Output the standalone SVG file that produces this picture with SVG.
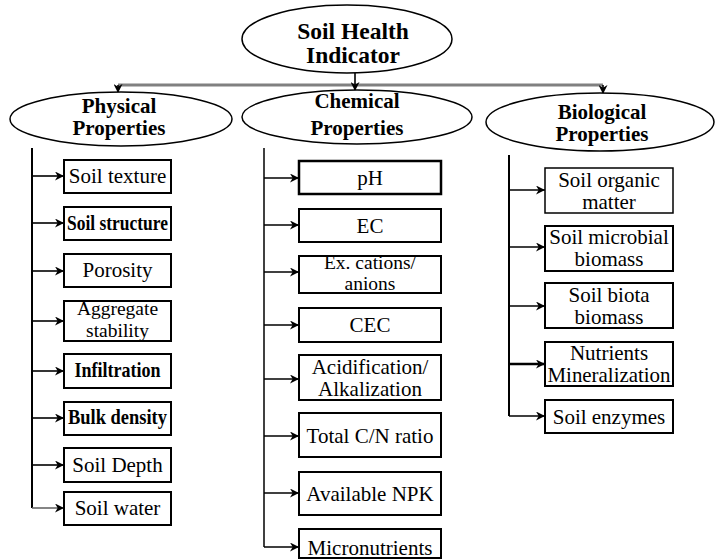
<svg xmlns="http://www.w3.org/2000/svg" width="715" height="560" viewBox="0 0 715 560">
<defs>
<marker id="ah" viewBox="0 0 10 10" refX="10" refY="5" markerWidth="9" markerHeight="9" markerUnits="userSpaceOnUse" orient="auto">
<path d="M0,0 L10,5 L0,10 L3,5 z" fill="#000"/>
</marker>
<style>
.ell{fill:#fff;stroke:#000;stroke-width:1.5}
.box{fill:#fff;stroke:#000;stroke-width:2}
.h{font-family:'Times New Roman','Liberation Serif',Tinos,'DejaVu Serif',serif;font-weight:bold;text-anchor:middle;fill:#000}
.t{font-family:'Times New Roman','Liberation Serif',Tinos,'DejaVu Serif',serif;font-size:21px;text-anchor:middle;fill:#000}
.s{font-size:19.5px}
.b{font-weight:bold}
.vl{stroke:#000;stroke-width:2;fill:none}
.ar{stroke:#000;stroke-width:1.6;fill:none;marker-end:url(#ah)}
.gl{stroke:#808080;stroke-width:3;fill:none}
</style>
</defs>
<rect width="715" height="560" fill="#fff"/>
<g id="connectors">
<line class="gl" x1="118" y1="85" x2="603" y2="85"/>
<line class="ar" x1="118" y1="85" x2="118" y2="93"/>
<line class="ar" x1="603" y1="85" x2="603" y2="94"/>
<line class="ar" x1="355" y1="73" x2="355" y2="91"/>
<line class="vl" x1="32" y1="148" x2="32" y2="508"/>
<line class="ar" x1="32" y1="176" x2="64" y2="176"/>
<line class="ar" x1="32" y1="223" x2="64" y2="223"/>
<line class="ar" x1="32" y1="271" x2="64" y2="271"/>
<line class="ar" x1="32" y1="321" x2="64" y2="321"/>
<line class="ar" x1="32" y1="371" x2="64" y2="371"/>
<line class="ar" x1="32" y1="418" x2="64" y2="418"/>
<line class="ar" x1="32" y1="465" x2="64" y2="465"/>
<line class="ar" x1="32" y1="508" x2="64" y2="508" style="stroke:#666"/>
<line class="vl" x1="264" y1="148" x2="264" y2="547" style="stroke-width:1.5"/>
<line class="ar" x1="264" y1="178" x2="299" y2="178"/>
<line class="ar" x1="264" y1="225" x2="299" y2="225"/>
<line class="ar" x1="264" y1="272" x2="299" y2="272"/>
<line class="ar" x1="264" y1="325" x2="299" y2="325"/>
<line class="ar" x1="264" y1="379" x2="299" y2="379"/>
<line class="ar" x1="264" y1="436" x2="299" y2="436"/>
<line class="ar" x1="264" y1="493" x2="299" y2="493"/>
<line class="ar" x1="264" y1="547" x2="299" y2="547"/>
<line class="vl" x1="509" y1="155" x2="509" y2="416"/>
<line class="ar" x1="509" y1="190" x2="545" y2="190"/>
<line class="ar" x1="509" y1="247" x2="545" y2="247"/>
<line class="ar" x1="509" y1="306" x2="545" y2="306"/>
<line class="ar" x1="509" y1="364" x2="545" y2="364" style="stroke-width:2.5"/>
<line class="ar" x1="509" y1="416" x2="545" y2="416"/>
</g>
<g id="root">
<ellipse class="ell" cx="347" cy="39" rx="105" ry="34"/>
<text class="h" x="353" y="39" font-size="23.5">Soil Health</text>
<text class="h" x="353" y="63" font-size="23.5">Indicator</text>
</g>
<g id="physical">
<ellipse class="ell" cx="121" cy="119" rx="111" ry="27"/>
<text class="h" x="119" y="113" font-size="21">Physical</text>
<text class="h" x="119" y="135" font-size="21">Properties</text>
</g>
<g id="chemical">
<ellipse class="ell" cx="357" cy="117" rx="115" ry="27"/>
<text class="h" x="357" y="108" font-size="21">Chemical</text>
<text class="h" x="357" y="135" font-size="21">Properties</text>
</g>
<g id="biological">
<ellipse class="ell" cx="600" cy="122" rx="114" ry="29"/>
<text class="h" x="602" y="119" font-size="21">Biological</text>
<text class="h" x="602" y="141" font-size="21">Properties</text>
</g>
<g id="p1"><rect class="box" x="64" y="160" width="107" height="33"/><text class="t" x="117.5" y="183">Soil texture</text></g>
<g id="p2"><rect class="box" x="64" y="207" width="107" height="33"/><text class="t b" x="117.5" y="230" textLength="101" lengthAdjust="spacingAndGlyphs">Soil structure</text></g>
<g id="p3"><rect class="box" x="64" y="254" width="107" height="33"/><text class="t" x="117.5" y="277">Porosity</text></g>
<g id="p4"><rect class="box" x="64" y="301" width="107" height="40"/><text class="t s" x="117.5" y="315">Aggregate</text><text class="t s" x="117.5" y="337">stability</text></g>
<g id="p5"><rect class="box" x="64" y="354" width="107" height="34"/><text class="t b" x="117.5" y="377" textLength="86" lengthAdjust="spacingAndGlyphs">Infiltration</text></g>
<g id="p6"><rect class="box" x="64" y="402" width="107" height="33"/><text class="t b" x="117.5" y="424" textLength="99" lengthAdjust="spacingAndGlyphs">Bulk density</text></g>
<g id="p7"><rect class="box" x="64" y="448" width="107" height="34"/><text class="t" x="117.5" y="472">Soil Depth</text></g>
<g id="p8"><rect class="box" x="64" y="492" width="107" height="33"/><text class="t" x="117.5" y="515">Soil water</text></g>
<g id="c1"><rect class="box" x="299" y="161" width="142" height="33" style="stroke-width:2.5"/><text class="t" x="370" y="185">pH</text></g>
<g id="c2"><rect class="box" x="299" y="209" width="142" height="33"/><text class="t" x="370" y="233">EC</text></g>
<g id="c3"><rect class="box" x="299" y="256" width="142" height="37"/><text class="t s" x="370" y="269">Ex. cations/</text><text class="t s" x="370" y="290">anions</text></g>
<g id="c4"><rect class="box" x="299" y="308" width="142" height="34"/><text class="t" x="370" y="332">CEC</text></g>
<g id="c5"><rect class="box" x="299" y="355" width="142" height="45"/><text class="t" x="370" y="374">Acidification/</text><text class="t" x="370" y="396">Alkalization</text></g>
<g id="c6"><rect class="box" x="299" y="413" width="142" height="44"/><text class="t" x="370" y="443">Total C/N ratio</text></g>
<g id="c7"><rect class="box" x="299" y="472" width="142" height="43"/><text class="t" x="370" y="501">Available NPK</text></g>
<g id="c8"><rect class="box" x="299" y="529" width="142" height="29"/><text class="t" x="370" y="555">Micronutrients</text></g>
<g id="b1"><rect class="box" x="545" y="168" width="128" height="45" style="stroke-width:1.5"/><text class="t" x="609" y="187">Soil organic</text><text class="t" x="609" y="209">matter</text></g>
<g id="b2"><rect class="box" x="545" y="226" width="128" height="45"/><text class="t" x="609" y="244">Soil microbial</text><text class="t" x="609" y="266">biomass</text></g>
<g id="b3"><rect class="box" x="545" y="283" width="128" height="45"/><text class="t" x="609" y="302">Soil biota</text><text class="t" x="609" y="324">biomass</text></g>
<g id="b4"><rect class="box" x="545" y="342" width="128" height="44"/><text class="t" x="609" y="360">Nutrients</text><text class="t" x="609" y="382" textLength="123" lengthAdjust="spacingAndGlyphs">Mineralization</text></g>
<g id="b5"><rect class="box" x="545" y="400" width="128" height="33"/><text class="t" x="609" y="424">Soil enzymes</text></g>
</svg>
